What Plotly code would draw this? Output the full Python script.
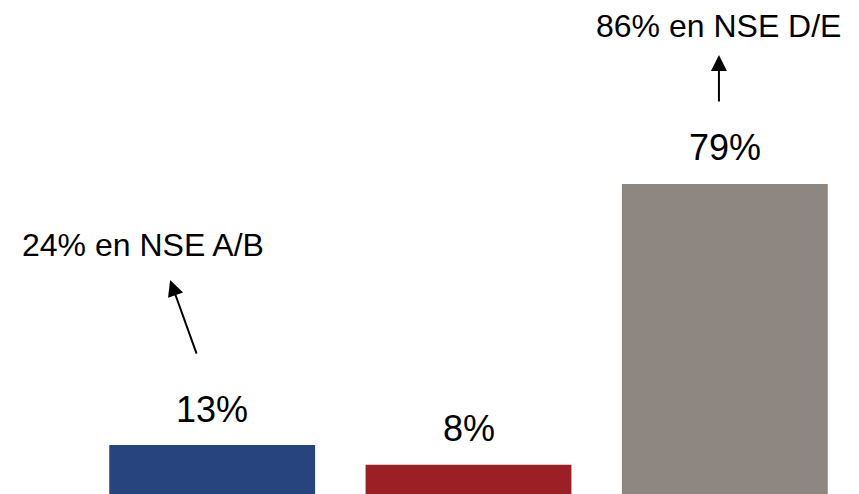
import plotly.graph_objects as go

categories = ["A", "B", "C"]
values = [13, 8, 79]
labels = ["13%", "8%", "79%"]
colors = ["#27447F", "#9B1F24", "#8E8680"]
notes = ["24% en NSE A/B", "86% en NSE D/E"]

FONT = "Liberation Sans, Arial, sans-serif"

fig = go.Figure()
fig.add_trace(go.Bar(
    x=categories, y=values, marker=dict(color=colors, line=dict(width=0)),
    width=0.803, hoverinfo="skip", showlegend=False,
))

annotations = []
for c, v, t in zip(categories, values, labels):
    annotations.append(dict(
        x=c, y=v, xref="x", yref="y", text=t, showarrow=False,
        yanchor="middle", yshift=36, font=dict(family=FONT, size=36, color="#000000"),
    ))

# side notes
annotations.append(dict(x=-0.269, y=63.6, xref="x", yref="y", text=notes[0], showarrow=False,
                        xanchor="center", yanchor="middle",
                        font=dict(family=FONT, size=32, color="#000000")))
annotations.append(dict(x=1.977, y=119, xref="x", yref="y", text=notes[1], showarrow=False,
                        xanchor="center", yanchor="middle",
                        font=dict(family=FONT, size=32, color="#000000")))
# arrows
annotations.append(dict(x=-0.164, y=54.7, xref="x", yref="y", text="", showarrow=True,
                        ax=27, ay=75, arrowhead=2, arrowsize=1.6, arrowwidth=2, arrowcolor="#000000"))
annotations.append(dict(x=1.977, y=111.6, xref="x", yref="y", text="", showarrow=True,
                        ax=0, ay=48, arrowhead=2, arrowsize=1.6, arrowwidth=2, arrowcolor="#000000"))

fig.update_layout(
    width=859, height=494,
    margin=dict(l=84, r=6, t=0, b=0),
    paper_bgcolor="white", plot_bgcolor="white",
    xaxis=dict(visible=False, range=[-0.5, 2.5]),
    yaxis=dict(visible=False, range=[0.63, 125.5]),
    annotations=annotations,
    bargap=0.2,
)
fig.write_html("out.html", config={"displayModeBar": False},
               post_script="document.body.style.margin='0';")
